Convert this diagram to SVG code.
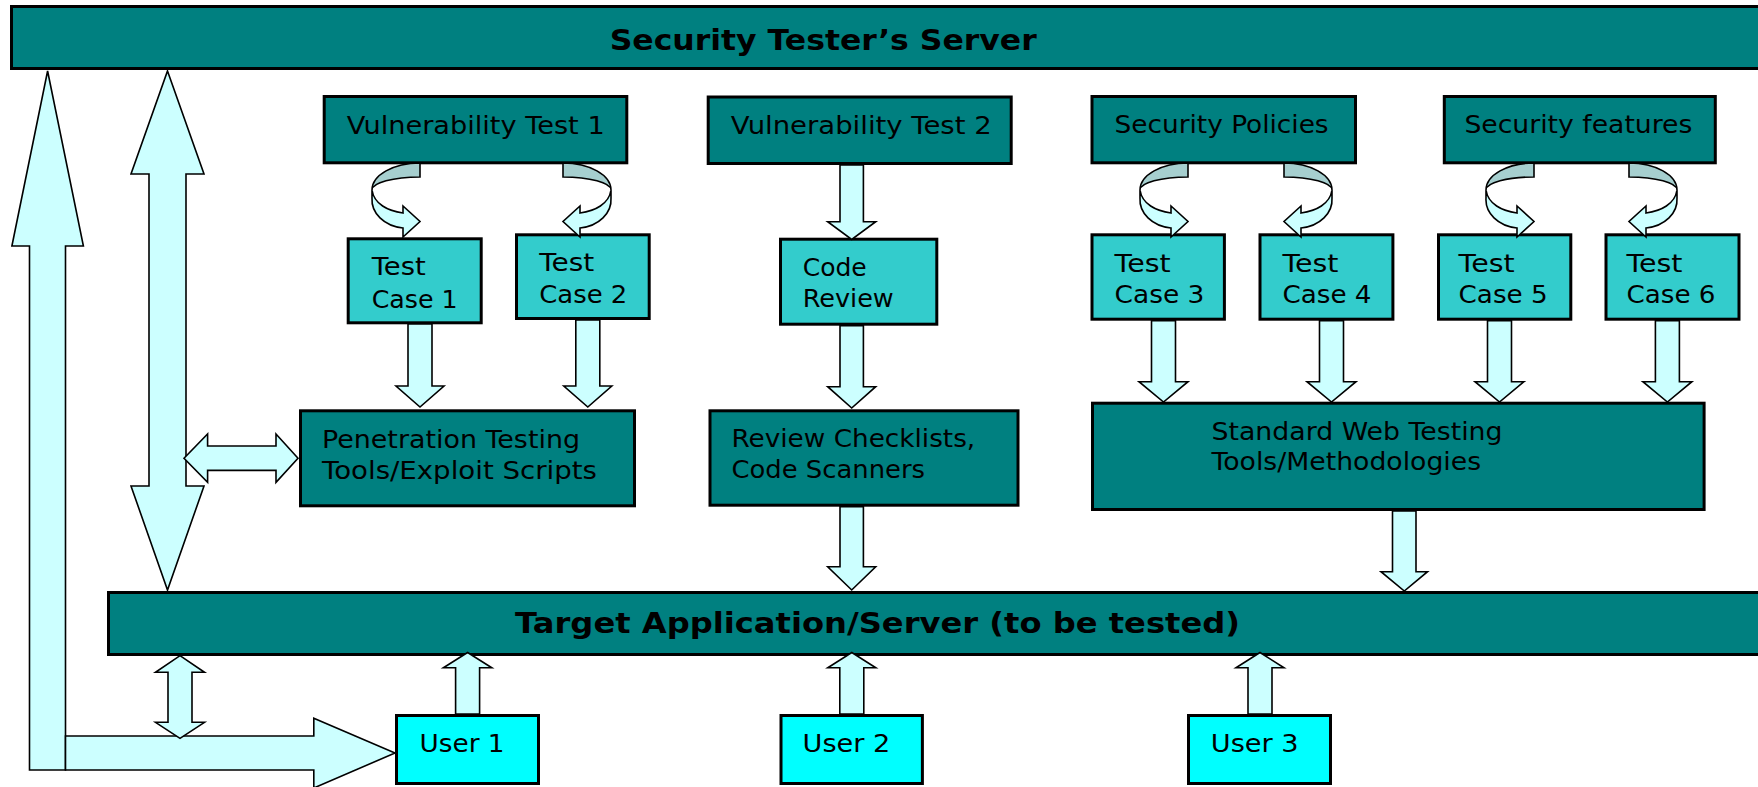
<svg xmlns="http://www.w3.org/2000/svg" xmlns:xlink="http://www.w3.org/1999/xlink" width="1758" height="787" viewBox="0 0 1758 787">
<style>
.dark{fill:#008080;stroke:#000;stroke-width:3}
.tc{fill:#33CCCC;stroke:#000;stroke-width:3}
.usr{fill:#00FFFF;stroke:#000;stroke-width:3}
.arr{fill:#CCFFFF;stroke:#000;stroke-width:1.6;stroke-linejoin:miter}
.back{fill:#A6CFCF;stroke:#000;stroke-width:1.6}
text{font-family:"DejaVu Sans",Verdana,sans-serif;font-size:25px;fill:#000}
.b{font-weight:bold;font-size:28px}
</style>
<defs>
<g id="curl">
<path class="back" d="M0,163 A48,27 0 0 0 -48,190 A48,13 0 0 1 0,177 Z"/>
<path class="arr" d="M-48,190 C-46,204 -32,211 -17,213 L-17,206 L0,221.5 L-17,237 L-17,228 C-36,226 -49,213 -48,198 Z"/>
</g>
</defs>
<rect width="1758" height="787" fill="#fff"/>

<g id="security-tester-server">
<rect class="dark" x="11.5" y="6.5" width="1760" height="62"/>
<text class="b" x="609.7" y="50" textLength="427" lengthAdjust="spacingAndGlyphs">Security Tester’s Server</text>
</g>

<g id="target-application">
<rect class="dark" x="108.5" y="592.5" width="1700" height="62"/>
<text class="b" x="515" y="633" textLength="725" lengthAdjust="spacingAndGlyphs">Target Application/Server (to be tested)</text>
</g>

<g id="vulnerability-test-1">
<rect class="dark" x="324.2" y="96.5" width="302.6" height="66.3"/>
<text x="346.7" y="134" textLength="258" lengthAdjust="spacingAndGlyphs">Vulnerability Test 1</text>
</g>
<g id="vulnerability-test-2">
<rect class="dark" x="708.2" y="97" width="303" height="66.5"/>
<text x="730.7" y="134.3" textLength="261" lengthAdjust="spacingAndGlyphs">Vulnerability Test 2</text>
</g>
<g id="security-policies">
<rect class="dark" x="1092" y="96.5" width="263.5" height="66.3"/>
<text x="1114.6" y="133.3" textLength="214" lengthAdjust="spacingAndGlyphs">Security Policies</text>
</g>
<g id="security-features">
<rect class="dark" x="1444.3" y="96.5" width="271" height="66.3"/>
<text x="1464.4" y="133.3" textLength="228" lengthAdjust="spacingAndGlyphs">Security features</text>
</g>

<g id="test-case-1">
<rect class="tc" x="348.2" y="238.8" width="133" height="84"/>
<text x="371.7" y="275" textLength="54" lengthAdjust="spacingAndGlyphs">Test</text>
<text x="371.7" y="307.7" textLength="86" lengthAdjust="spacingAndGlyphs">Case 1</text>
</g>
<g id="test-case-2">
<rect class="tc" x="516.5" y="234.8" width="132.7" height="83.7"/>
<text x="539.3" y="271" textLength="55" lengthAdjust="spacingAndGlyphs">Test</text>
<text x="539.3" y="302.7" textLength="88" lengthAdjust="spacingAndGlyphs">Case 2</text>
</g>
<g id="code-review">
<rect class="tc" x="780.5" y="239.2" width="156.3" height="85"/>
<text x="802.7" y="275.7" textLength="64" lengthAdjust="spacingAndGlyphs">Code</text>
<text x="802.7" y="307.3" textLength="91" lengthAdjust="spacingAndGlyphs">Review</text>
</g>
<g id="test-case-3">
<rect class="tc" x="1092" y="234.8" width="132.4" height="84.4"/>
<text x="1114.6" y="271.7" textLength="56" lengthAdjust="spacingAndGlyphs">Test</text>
<text x="1114.6" y="302.7" textLength="89.8" lengthAdjust="spacingAndGlyphs">Case 3</text>
</g>
<g id="test-case-4">
<rect class="tc" x="1260" y="234.8" width="132.9" height="84.4"/>
<text x="1282.5" y="271.7" textLength="56" lengthAdjust="spacingAndGlyphs">Test</text>
<text x="1282.5" y="302.7" textLength="89" lengthAdjust="spacingAndGlyphs">Case 4</text>
</g>
<g id="test-case-5">
<rect class="tc" x="1438.5" y="234.8" width="132.3" height="84.4"/>
<text x="1458.6" y="271.7" textLength="56" lengthAdjust="spacingAndGlyphs">Test</text>
<text x="1458.6" y="302.7" textLength="89" lengthAdjust="spacingAndGlyphs">Case 5</text>
</g>
<g id="test-case-6">
<rect class="tc" x="1606" y="234.8" width="133" height="84.4"/>
<text x="1626.5" y="271.7" textLength="56" lengthAdjust="spacingAndGlyphs">Test</text>
<text x="1626.5" y="302.7" textLength="89" lengthAdjust="spacingAndGlyphs">Case 6</text>
</g>

<g id="penetration-testing">
<rect class="dark" x="300.5" y="410.8" width="334" height="95"/>
<text x="322" y="447.7" textLength="258" lengthAdjust="spacingAndGlyphs">Penetration Testing</text>
<text x="322" y="479" textLength="275" lengthAdjust="spacingAndGlyphs">Tools/Exploit Scripts</text>
</g>
<g id="review-checklists">
<rect class="dark" x="710" y="410.8" width="308" height="94.4"/>
<text x="731.5" y="446.7" textLength="243.7" lengthAdjust="spacingAndGlyphs">Review Checklists,</text>
<text x="731.5" y="478.3" textLength="193.5" lengthAdjust="spacingAndGlyphs">Code Scanners</text>
</g>
<g id="standard-web-testing">
<rect class="dark" x="1092.5" y="403.2" width="611.6" height="106.3"/>
<text x="1211.5" y="440" textLength="291" lengthAdjust="spacingAndGlyphs">Standard Web Testing</text>
<text x="1211.5" y="470" textLength="269.6" lengthAdjust="spacingAndGlyphs">Tools/Methodologies</text>
</g>

<g id="user-1">
<rect class="usr" x="396.5" y="715.5" width="142" height="68"/>
<text x="419.6" y="751.7" textLength="85" lengthAdjust="spacingAndGlyphs">User 1</text>
</g>
<g id="user-2">
<rect class="usr" x="781" y="715.5" width="141.4" height="68"/>
<text x="802.6" y="751.7" textLength="87.7" lengthAdjust="spacingAndGlyphs">User 2</text>
</g>
<g id="user-3">
<rect class="usr" x="1188.5" y="715.5" width="142" height="68"/>
<text x="1210.8" y="751.7" textLength="87.7" lengthAdjust="spacingAndGlyphs">User 3</text>
</g>

<g id="connectors">
<path class="arr" d="M47.6,71 L83.4,246 L65.5,246 L65.5,770 L29.5,770 L29.5,246 L11.9,246 Z"/>
<path class="arr" d="M65.5,736 L313.8,736 L313.8,718.3 L395,753 L313.8,788 L313.8,770 L65.5,770 Z"/>
<path class="arr" d="M167.5,71 L204,174 L186,174 L186,486 L204,486 L167.5,590 L131,486 L149,486 L149,174 L131,174 Z"/>
<path class="arr" d="M184,458.2 L207.6,434 L207.6,446 L276,446 L276,434 L298,458.2 L276,482.4 L276,470.4 L207.6,470.4 L207.6,482.4 Z"/>
<path class="arr" d="M180,655.7 L204.5,672.3 L192,672.3 L192,722.3 L204.5,722.3 L180,738.3 L155.5,722.3 L168,722.3 L168,672.3 L155.5,672.3 Z"/>
<use xlink:href="#curl" transform="translate(420,0)"/>
<use xlink:href="#curl" transform="translate(563,0) scale(-1,1)"/>
<use xlink:href="#curl" transform="translate(1188,0)"/>
<use xlink:href="#curl" transform="translate(1284,0) scale(-1,1)"/>
<use xlink:href="#curl" transform="translate(1534,0)"/>
<use xlink:href="#curl" transform="translate(1629,0) scale(-1,1)"/>
<path class="arr" d="M408,324 L432,324 L432,386 L444,386 L420,407 L396,386 L408,386 Z"/>
<path class="arr" d="M575.8,320 L599.8,320 L599.8,386 L611.8,386 L587.8,407 L563.8,386 L575.8,386 Z"/>
<path class="arr" d="M840,165 L863.4,165 L863.4,221.7 L875.7,221.7 L851.7,239.5 L827.7,221.7 L840,221.7 Z"/>
<path class="arr" d="M840,325.7 L863.4,325.7 L863.4,386.7 L875.7,386.7 L851.7,408 L827.7,386.7 L840,386.7 Z"/>
<path class="arr" d="M840,506.7 L863.4,506.7 L863.4,566.7 L875.7,566.7 L851.7,590 L827.7,566.7 L840,566.7 Z"/>
<path class="arr" d="M1151.5,320.7 L1175.5,320.7 L1175.5,381.7 L1188,381.7 L1163.5,402 L1139,381.7 L1151.5,381.7 Z"/>
<path class="arr" d="M1319.5,320.7 L1343.5,320.7 L1343.5,381.7 L1356,381.7 L1331.5,402 L1307,381.7 L1319.5,381.7 Z"/>
<path class="arr" d="M1487.5,320.7 L1511.5,320.7 L1511.5,381.7 L1524,381.7 L1499.5,402 L1475,381.7 L1487.5,381.7 Z"/>
<path class="arr" d="M1655.4,320.7 L1679.4,320.7 L1679.4,381.7 L1691.9,381.7 L1667.4,402 L1642.9,381.7 L1655.4,381.7 Z"/>
<path class="arr" d="M1392.5,511 L1416,511 L1416,571.7 L1427.5,571.7 L1404.3,591 L1381,571.7 L1392.5,571.7 Z"/>
<path class="arr" d="M455.6,714 L455.6,667.7 L443.4,667.7 L467.6,652.5 L491.8,667.7 L479.6,667.7 L479.6,714 Z"/>
<path class="arr" d="M839.8,714 L839.8,667.7 L827.8,667.7 L851.8,652.5 L875.8,667.7 L863.8,667.7 L863.8,714 Z"/>
<path class="arr" d="M1248,714 L1248,667.7 L1236,667.7 L1260,652.5 L1284,667.7 L1272,667.7 L1272,714 Z"/>
</g>
</svg>
